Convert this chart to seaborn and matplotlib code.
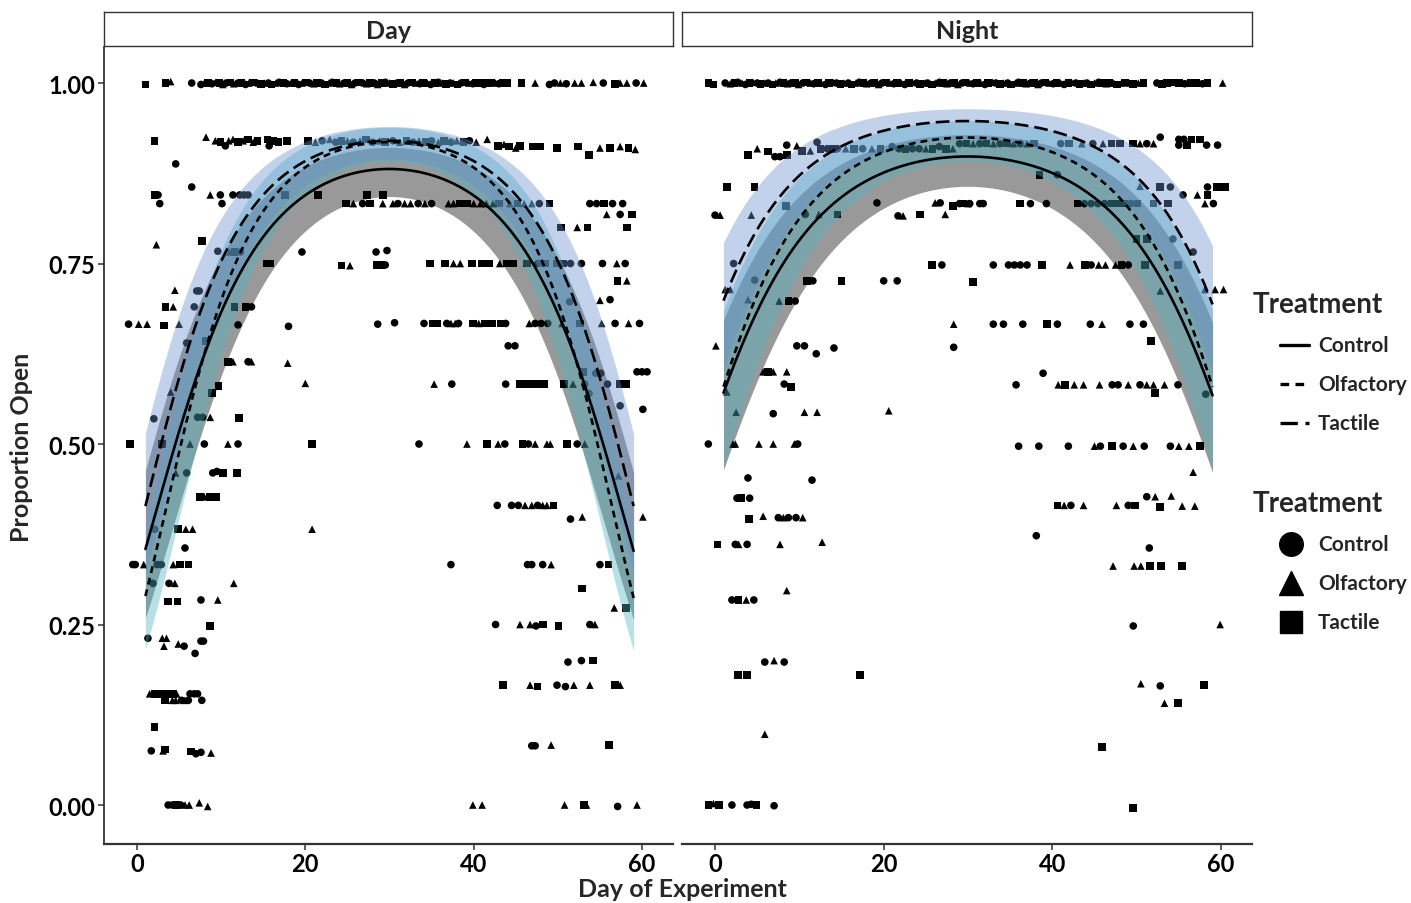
import numpy as np
import pandas as pd
import matplotlib
matplotlib.use("Agg")
import matplotlib.pyplot as plt
from matplotlib.lines import Line2D
import seaborn as sns

# ---------------- data ----------------
treat_names = {"C": "Control", "O": "Olfactory", "T": "Tactile"}
treat_order = ["Control", "Olfactory", "Tactile"]

# Day panel observations: (day, proportion open, treatment)
day_top = [
    (1.0, 0.998, 'T'), (3.4, 1.0, 'T'), (4.0, 1.002, 'O'), (6.5, 1.0, 'C'),
    (7.6, 0.998, 'C'), (8.0, 1.0, 'O'), (8.4, 1.0, 'T'), (8.9, 0.999, 'C'), (9.3, 1.001, 'O'), (9.8, 1.0, 'T'),
    (10.2, 0.998, 'O'), (10.6, 1.0, 'C'), (11.1, 1.001, 'T'), (11.5, 0.999, 'O'), (12.0, 1.0, 'C'), (12.4, 1.0, 'T'),
    (12.9, 0.998, 'C'), (13.3, 1.0, 'O'), (13.8, 1.001, 'T'), (14.2, 1.0, 'C'), (14.7, 0.999, 'T'), (15.1, 1.0, 'O'),
    (15.6, 1.0, 'C'), (16.0, 0.998, 'T'), (16.5, 1.0, 'O'), (16.9, 1.001, 'C'), (17.4, 1.0, 'T'), (17.8, 0.999, 'C'),
    (18.3, 1.0, 'O'), (18.7, 1.0, 'T'), (19.2, 0.998, 'C'), (19.6, 1.0, 'O'), (20.1, 1.001, 'T'), (20.5, 1.0, 'C'),
    (21.0, 0.999, 'O'), (21.4, 1.0, 'T'), (21.9, 1.0, 'C'), (22.3, 0.998, 'T'), (22.8, 1.0, 'O'), (23.2, 1.001, 'C'),
    (23.7, 1.0, 'T'), (24.1, 0.999, 'O'), (24.6, 1.0, 'C'), (25.0, 1.0, 'T'), (25.5, 0.998, 'O'), (25.9, 1.0, 'C'),
    (26.4, 1.001, 'T'), (26.8, 1.0, 'C'), (27.3, 0.999, 'O'), (27.7, 1.0, 'T'), (28.2, 1.0, 'C'), (28.6, 0.998, 'O'),
    (29.1, 1.0, 'T'), (29.5, 1.001, 'C'), (30.0, 1.0, 'O'), (30.4, 0.999, 'T'), (30.9, 1.0, 'C'), (31.3, 1.0, 'T'),
    (31.8, 0.998, 'O'), (32.2, 1.0, 'C'), (32.7, 1.001, 'T'), (33.1, 1.0, 'O'), (33.6, 0.999, 'C'), (34.0, 1.0, 'T'),
    (34.5, 1.0, 'O'), (34.9, 0.998, 'C'), (35.4, 1.0, 'T'), (35.8, 1.001, 'C'), (36.3, 1.0, 'O'), (36.7, 0.999, 'T'),
    (37.2, 1.0, 'C'), (37.6, 1.0, 'O'), (38.1, 0.998, 'T'), (38.5, 1.0, 'C'), (39.0, 1.001, 'T'), (39.4, 1.0, 'O'),
    (39.9, 0.999, 'C'), (40.3, 1.0, 'T'), (40.8, 1.0, 'T'), (41.2, 0.998, 'C'), (41.7, 1.0, 'T'), (42.1, 1.001, 'T'),
    (42.6, 1.0, 'O'), (43.0, 0.999, 'C'), (43.5, 1.0, 'T'), (44.0, 1.0, 'T'),
    (45.7, 1.0, 'T'), (47.3, 1.0, 'O'), (49.0, 0.998, 'C'), (49.6, 1.0, 'C'), (50.3, 1.0, 'O'), (51.0, 0.999, 'C'),
    (52.0, 1.0, 'O'), (52.8, 1.0, 'O'), (54.2, 1.001, 'O'), (55.4, 1.0, 'C'), (56.8, 0.999, 'T'), (57.4, 1.0, 'O'),
    (58.2, 1.0, 'O'), (59.3, 1.0, 'C'), (60.2, 1.0, 'O'),
]
day_upper = [
    (2.1, 0.92, 'T'), (8.2, 0.925, 'O'), (9.3, 0.92, 'O'), (9.9, 0.918, 'T'), (10.5, 0.913, 'C'), (10.9, 0.92, 'O'),
    (11.4, 0.922, 'O'), (12.0, 0.918, 'T'), (12.6, 0.92, 'O'), (13.2, 0.922, 'T'), (13.8, 0.918, 'O'), (14.3, 0.92, 'T'),
    (15.5, 0.922, 'T'), (15.7, 0.913, 'C'), (16.2, 0.92, 'T'), (16.8, 0.918, 'T'), (17.8, 0.92, 'T'), (20.3, 0.92, 'T'),
    (21.2, 0.918, 'O'), (22.0, 0.92, 'C'), (22.9, 0.922, 'O'), (23.6, 0.918, 'C'), (24.3, 0.92, 'T'), (25.0, 0.92, 'O'),
    (25.7, 0.918, 'C'), (26.5, 0.92, 'O'), (27.2, 0.922, 'T'), (28.0, 0.918, 'C'), (28.8, 0.92, 'O'), (29.5, 0.918, 'T'),
    (30.4, 0.92, 'C'), (31.2, 0.918, 'O'), (32.0, 0.92, 'T'), (32.8, 0.918, 'C'), (33.5, 0.92, 'O'), (34.3, 0.918, 'T'),
    (35.0, 0.92, 'C'), (35.8, 0.918, 'O'), (36.5, 0.92, 'T'), (37.3, 0.918, 'C'), (38.0, 0.92, 'O'), (38.8, 0.918, 'T'),
    (39.5, 0.92, 'C'), (40.3, 0.918, 'O'), (41.6, 0.922, 'O'), (42.9, 0.913, 'T'), (43.6, 0.915, 'O'), (44.2, 0.912, 'T'),
    (45.0, 0.91, 'O'), (45.5, 0.913, 'T'), (47.0, 0.912, 'T'), (47.9, 0.912, 'T'), (49.9, 0.91, 'T'), (52.4, 0.912, 'T'),
    (53.7, 0.9, 'T'), (55.0, 0.91, 'O'), (56.2, 0.91, 'T'), (57.4, 0.912, 'O'), (58.4, 0.91, 'T'), (59.2, 0.908, 'O'),
    (4.6, 0.888, 'C'), (6.5, 0.856, 'C'),
    (2.1, 0.845, 'T'), (2.5, 0.845, 'C'), (2.7, 0.833, 'C'), (8.7, 0.845, 'O'), (9.9, 0.845, 'C'), (10.1, 0.833, 'C'),
    (11.4, 0.845, 'C'), (12.2, 0.845, 'C'), (12.7, 0.845, 'C'), (13.2, 0.845, 'C'), (17.6, 0.845, 'T'), (21.5, 0.845, 'T'),
    (24.8, 0.833, 'T'), (25.7, 0.833, 'O'), (26.8, 0.833, 'C'), (27.3, 0.845, 'T'), (27.7, 0.833, 'T'), (29.2, 0.845, 'T'),
    (29.2, 0.833, 'O'), (30.4, 0.833, 'O'), (31.0, 0.833, 'C'), (31.8, 0.833, 'O'), (32.5, 0.833, 'O'), (33.4, 0.833, 'C'),
    (34.2, 0.833, 'O'), (35.0, 0.833, 'C'), (37.0, 0.833, 'O'), (37.6, 0.833, 'O'), (38.4, 0.833, 'T'), (39.2, 0.833, 'T'),
    (40.0, 0.833, 'O'), (40.8, 0.833, 'O'), (41.5, 0.833, 'O'), (42.3, 0.833, 'O'), (43.0, 0.833, 'T'), (44.3, 0.833, 'O'),
    (45.2, 0.833, 'T'), (46.0, 0.833, 'O'), (46.9, 0.833, 'O'), (47.8, 0.833, 'C'), (49.0, 0.833, 'T'), (53.8, 0.833, 'C'),
    (54.6, 0.833, 'C'), (55.5, 0.833, 'T'), (56.5, 0.833, 'C'), (57.7, 0.833, 'C'), (55.8, 0.818, 'O'), (57.4, 0.818, 'C'),
    (58.8, 0.818, 'T'), (50.4, 0.8, 'T'), (52.3, 0.8, 'O'), (53.5, 0.8, 'T'), (58.2, 0.8, 'T'),
]
day_middle = [
    (2.3, 0.776, 'O'), (7.7, 0.781, 'T'), (9.6, 0.767, 'C'), (11.0, 0.766, 'O'), (11.6, 0.766, 'T'), (12.3, 0.766, 'C'),
    (19.6, 0.766, 'C'), (28.4, 0.766, 'C'), (29.7, 0.768, 'C'), (15.4, 0.75, 'T'), (15.8, 0.75, 'T'), (24.3, 0.747, 'T'),
    (25.3, 0.747, 'O'), (28.5, 0.748, 'T'), (29.0, 0.748, 'T'), (29.5, 0.748, 'C'), (34.8, 0.75, 'T'), (36.6, 0.75, 'T'),
    (37.6, 0.75, 'O'), (38.4, 0.75, 'O'), (39.8, 0.75, 'T'), (41.0, 0.75, 'T'), (41.8, 0.75, 'T'), (43.1, 0.75, 'O'),
    (43.9, 0.75, 'T'), (44.7, 0.75, 'T'), (46.3, 0.75, 'T'), (47.6, 0.75, 'C'), (48.5, 0.75, 'T'), (49.9, 0.75, 'T'),
    (50.6, 0.75, 'T'), (51.5, 0.75, 'C'), (52.8, 0.75, 'C'), (55.3, 0.75, 'C'), (57.0, 0.75, 'O'), (58.0, 0.75, 'C'),
    (57.1, 0.726, 'T'), (58.2, 0.726, 'O'),
    (4.5, 0.713, 'O'), (7.1, 0.712, 'C'), (7.4, 0.712, 'C'), (3.4, 0.69, 'T'), (4.3, 0.69, 'O'), (6.8, 0.69, 'C'),
    (11.6, 0.69, 'T'), (12.9, 0.69, 'T'), (13.6, 0.69, 'C'), (51.4, 0.697, 'C'), (55.0, 0.699, 'O'), (56.2, 0.7, 'C'),
    (-1.0, 0.666, 'C'), (0.2, 0.666, 'O'), (1.2, 0.666, 'O'), (3.2, 0.664, 'T'), (5.0, 0.666, 'O'), (12.0, 0.665, 'C'),
    (18.0, 0.663, 'C'), (28.6, 0.666, 'C'), (30.6, 0.668, 'C'), (34.1, 0.667, 'C'), (35.1, 0.667, 'T'), (35.7, 0.667, 'T'),
    (36.8, 0.667, 'C'), (37.3, 0.667, 'O'), (37.8, 0.667, 'O'), (38.2, 0.667, 'C'), (39.9, 0.667, 'T'), (40.6, 0.667, 'O'),
    (41.3, 0.667, 'T'), (42.2, 0.667, 'T'), (43.2, 0.667, 'T'), (43.8, 0.667, 'C'), (46.6, 0.667, 'O'), (47.3, 0.667, 'C'),
    (48.0, 0.667, 'C'), (48.8, 0.667, 'C'), (50.5, 0.667, 'O'), (52.6, 0.667, 'T'), (55.2, 0.667, 'O'), (56.8, 0.667, 'C'),
    (58.4, 0.667, 'O'), (59.7, 0.667, 'C'), (44.1, 0.636, 'C'), (44.9, 0.636, 'C'), (5.9, 0.64, 'C'), (8.2, 0.643, 'T'),
    (53.0, 0.6, 'T'), (54.5, 0.598, 'C'), (55.1, 0.598, 'C'), (59.4, 0.6, 'C'), (60.0, 0.6, 'C'), (60.6, 0.6, 'C'),
    (10.8, 0.614, 'T'), (11.4, 0.614, 'O'), (13.2, 0.614, 'C'), (13.6, 0.614, 'O'), (17.9, 0.612, 'O'), (20.0, 0.584, 'O'),
    (9.7, 0.58, 'T'), (4.0, 0.572, 'O'), (8.9, 0.571, 'T'),
    (35.3, 0.583, 'O'), (37.4, 0.583, 'C'), (43.8, 0.583, 'C'), (45.5, 0.583, 'T'), (46.3, 0.583, 'T'), (47.0, 0.583, 'T'),
    (47.6, 0.583, 'T'), (48.4, 0.583, 'T'), (50.7, 0.583, 'T'), (51.8, 0.583, 'O'), (53.2, 0.583, 'C'), (55.9, 0.583, 'C'),
    (57.4, 0.583, 'T'), (58.1, 0.583, 'T'), (57.4, 0.553, 'C'), (60.1, 0.548, 'C'), (53.7, 0.57, 'C'),
    (2.0, 0.535, 'C'), (7.2, 0.537, 'C'), (7.8, 0.537, 'C'), (8.7, 0.537, 'O'), (12.1, 0.536, 'T'),
    (-0.8, 0.5, 'T'), (3.0, 0.5, 'T'), (6.3, 0.5, 'O'), (8.0, 0.5, 'C'), (10.8, 0.5, 'O'), (12.0, 0.5, 'C'), (20.8, 0.5, 'T'),
    (33.5, 0.5, 'C'), (39.2, 0.5, 'O'), (41.6, 0.5, 'T'), (42.9, 0.5, 'O'), (43.7, 0.5, 'C'), (45.8, 0.5, 'T'),
    (46.5, 0.5, 'C'), (47.3, 0.5, 'O'), (48.7, 0.5, 'O'), (49.1, 0.5, 'O'), (51.1, 0.5, 'T'), (52.3, 0.5, 'C'),
    (53.2, 0.5, 'O'), (57.2, 0.456, 'O'),
]
day_lower = [
    (4.6, 0.46, 'O'), (5.9, 0.46, 'C'), (9.0, 0.46, 'C'), (9.5, 0.462, 'C'), (10.2, 0.46, 'T'), (11.9, 0.46, 'T'),
    (7.5, 0.427, 'T'), (8.0, 0.427, 'O'), (8.6, 0.427, 'T'), (9.4, 0.427, 'T'),
    (42.8, 0.415, 'C'), (44.5, 0.415, 'C'), (45.3, 0.415, 'C'), (46.1, 0.415, 'O'), (46.9, 0.415, 'O'), (47.6, 0.415, 'C'),
    (48.2, 0.415, 'O'), (48.7, 0.415, 'O'), (49.5, 0.415, 'T'), (51.5, 0.396, 'C'), (52.9, 0.399, 'O'), (60.1, 0.399, 'O'),
    (2.1, 0.382, 'C'), (4.9, 0.382, 'T'), (5.8, 0.382, 'O'), (6.6, 0.382, 'O'), (20.8, 0.382, 'O'), (5.7, 0.356, 'C'),
    (-0.5, 0.333, 'C'), (-0.2, 0.333, 'C'), (0.8, 0.333, 'O'), (2.4, 0.333, 'C'), (2.9, 0.333, 'C'), (4.3, 0.333, 'O'),
    (5.1, 0.333, 'T'), (6.1, 0.333, 'T'), (37.3, 0.333, 'C'), (46.4, 0.333, 'C'), (46.9, 0.333, 'C'), (48.2, 0.333, 'C'),
    (49.2, 0.333, 'O'), (55.0, 0.333, 'C'), (56.0, 0.333, 'T'),
    (1.9, 0.307, 'C'), (3.8, 0.307, 'C'), (4.5, 0.307, 'O'), (11.5, 0.307, 'O'), (52.9, 0.3, 'T'),
    (3.7, 0.282, 'T'), (4.8, 0.282, 'T'), (7.6, 0.284, 'C'), (9.6, 0.284, 'O'), (56.7, 0.273, 'O'), (58.1, 0.273, 'T'),
    (8.7, 0.248, 'T'), (42.6, 0.25, 'C'), (45.5, 0.25, 'O'), (46.7, 0.25, 'O'), (47.4, 0.248, 'C'), (48.2, 0.25, 'T'),
    (50.1, 0.248, 'T'), (53.8, 0.25, 'C'), (54.4, 0.25, 'O'),
    (1.3, 0.231, 'C'), (3.0, 0.231, 'O'), (3.5, 0.231, 'O'), (4.9, 0.223, 'O'), (5.6, 0.22, 'C'), (6.9, 0.21, 'C'),
    (7.6, 0.227, 'C'), (7.9, 0.227, 'C'), (3.2, 0.22, 'O'),
    (51.2, 0.198, 'C'), (52.8, 0.2, 'C'), (54.2, 0.2, 'T'),
    (43.5, 0.166, 'T'), (46.7, 0.166, 'O'), (47.6, 0.164, 'T'), (49.9, 0.166, 'C'), (50.9, 0.164, 'C'), (51.9, 0.166, 'O'),
    (53.8, 0.166, 'O'), (56.8, 0.166, 'T'), (57.4, 0.166, 'O'),
    (1.5, 0.154, 'O'), (2.1, 0.154, 'T'), (2.6, 0.154, 'T'), (3.1, 0.154, 'O'), (3.6, 0.154, 'T'), (4.3, 0.154, 'T'),
    (4.7, 0.154, 'O'), (6.3, 0.154, 'C'), (6.8, 0.154, 'C'), (7.2, 0.154, 'C'),
    (3.3, 0.145, 'T'), (4.2, 0.145, 'O'), (4.6, 0.145, 'O'), (5.3, 0.145, 'C'), (5.7, 0.145, 'O'), (6.1, 0.145, 'C'),
    (7.7, 0.145, 'C'), (2.1, 0.108, 'T'),
    (1.7, 0.075, 'C'), (3.1, 0.075, 'O'), (3.3, 0.077, 'T'), (6.4, 0.074, 'T'), (7.0, 0.071, 'C'), (7.6, 0.073, 'C'),
    (8.8, 0.072, 'O'), (46.9, 0.082, 'C'), (47.3, 0.082, 'C'), (49.2, 0.083, 'O'), (56.1, 0.083, 'T'),
    (3.7, 0.0, 'C'), (4.2, 0.0, 'C'), (4.7, 0.0, 'T'), (5.2, 0.0, 'C'), (5.7, 0.0, 'O'), (6.2, 0.0, 'O'), (7.4, 0.003, 'O'),
    (8.4, -0.002, 'O'), (39.9, 0.0, 'O'), (41.0, 0.0, 'O'), (50.8, 0.0, 'O'), (53.1, 0.0, 'T'), (53.4, 0.0, 'O'),
    (57.1, -0.002, 'C'), (59.4, 0.0, 'O'),
]

# Night panel observations
night_top = [
    (-0.8, 1.0, 'T'), (-0.2, 0.998, 'T'), (1.2, 1.0, 'C'), (1.8, 0.999, 'O'), (2.3, 1.0, 'T'), (2.7, 1.001, 'C'),
    (3.2, 1.0, 'O'), (3.6, 0.998, 'C'), (4.1, 1.0, 'T'), (4.5, 1.001, 'O'), (5.0, 1.0, 'C'), (5.4, 0.999, 'T'),
    (5.9, 1.0, 'O'), (6.3, 1.0, 'C'), (6.8, 0.998, 'T'), (7.2, 1.0, 'O'), (7.7, 1.001, 'C'), (8.1, 1.0, 'T'),
    (8.6, 0.999, 'O'), (9.0, 1.0, 'C'), (9.5, 1.0, 'T'), (9.9, 0.998, 'O'), (10.4, 1.0, 'C'), (10.8, 1.001, 'T'),
    (11.3, 1.0, 'O'), (11.7, 0.999, 'C'), (12.2, 1.0, 'T'), (12.6, 1.0, 'O'), (13.1, 0.998, 'C'), (13.5, 1.0, 'T'),
    (14.0, 1.001, 'O'), (14.4, 1.0, 'C'), (14.9, 0.999, 'T'), (15.3, 1.0, 'O'), (15.8, 1.0, 'C'), (16.2, 0.998, 'T'),
    (16.7, 1.0, 'O'), (17.1, 1.001, 'C'), (17.6, 1.0, 'T'), (18.0, 0.999, 'O'), (18.5, 1.0, 'C'), (18.9, 1.0, 'T'),
    (19.4, 0.998, 'O'), (19.8, 1.0, 'C'), (20.3, 1.001, 'T'), (20.7, 1.0, 'O'), (21.2, 0.999, 'C'), (21.6, 1.0, 'T'),
    (22.1, 1.0, 'O'), (22.5, 0.998, 'C'), (23.0, 1.0, 'T'), (23.4, 1.001, 'O'), (23.9, 1.0, 'C'), (24.3, 0.999, 'T'),
    (24.8, 1.0, 'O'), (25.2, 1.0, 'C'), (25.7, 0.998, 'T'), (26.1, 1.0, 'O'), (26.6, 1.001, 'C'), (27.0, 1.0, 'T'),
    (27.5, 0.999, 'O'), (27.9, 1.0, 'C'), (28.4, 1.0, 'T'), (28.8, 0.998, 'O'), (29.3, 1.0, 'C'), (29.7, 1.001, 'T'),
    (30.2, 1.0, 'O'), (30.6, 0.999, 'C'), (31.1, 1.0, 'T'), (31.5, 1.0, 'O'), (32.0, 0.998, 'C'), (32.4, 1.0, 'T'),
    (32.9, 1.001, 'O'), (33.3, 1.0, 'C'), (33.8, 0.999, 'T'), (34.2, 1.0, 'O'), (34.7, 1.0, 'C'), (35.1, 0.998, 'T'),
    (35.6, 1.0, 'O'), (36.0, 1.001, 'C'), (36.5, 1.0, 'T'), (36.9, 0.999, 'O'), (37.4, 1.0, 'C'), (37.8, 1.0, 'T'),
    (38.3, 0.998, 'O'), (38.7, 1.0, 'C'), (39.2, 1.001, 'T'), (39.6, 1.0, 'O'), (40.1, 0.999, 'C'), (40.5, 1.0, 'T'),
    (41.0, 1.0, 'O'), (41.4, 0.998, 'C'), (41.9, 1.0, 'T'), (42.3, 1.001, 'O'), (42.8, 1.0, 'C'), (43.2, 0.999, 'T'),
    (43.7, 1.0, 'O'), (44.1, 1.0, 'C'), (44.6, 0.998, 'T'), (45.0, 1.0, 'O'), (45.5, 1.001, 'C'), (45.9, 1.0, 'T'),
    (46.4, 0.999, 'O'), (46.8, 1.0, 'T'), (47.3, 1.0, 'O'), (47.7, 0.998, 'T'), (48.2, 1.0, 'O'), (48.6, 1.001, 'T'),
    (49.1, 1.0, 'O'), (49.6, 0.999, 'T'), (50.2, 1.0, 'O'), (50.8, 1.0, 'T'),
    (52.4, 1.0, 'C'), (53.0, 0.999, 'T'), (53.6, 1.0, 'T'), (54.3, 1.001, 'T'), (55.0, 1.0, 'T'), (55.7, 0.999, 'C'),
    (56.4, 1.0, 'T'), (57.1, 1.0, 'T'), (57.8, 0.999, 'C'), (58.4, 1.0, 'T'), (60.2, 1.0, 'O'),
]
night_upper = [
    (3.9, 0.9, 'T'), (5.0, 0.909, 'O'), (6.3, 0.905, 'T'), (7.1, 0.898, 'C'), (7.7, 0.898, 'C'), (8.5, 0.9, 'T'),
    (8.5, 0.914, 'C'), (9.7, 0.913, 'O'), (10.3, 0.906, 'T'), (11.3, 0.906, 'O'), (12.1, 0.918, 'C'), (12.5, 0.909, 'T'),
    (13.3, 0.909, 'C'), (14.0, 0.909, 'T'), (14.5, 0.909, 'C'), (15.5, 0.909, 'O'), (16.5, 0.909, 'T'), (17.5, 0.909, 'C'),
    (18.6, 0.909, 'O'), (19.6, 0.909, 'T'), (21.0, 0.912, 'C'), (21.8, 0.909, 'C'), (22.6, 0.909, 'T'), (23.4, 0.909, 'C'),
    (24.2, 0.909, 'C'), (25.0, 0.909, 'O'), (25.8, 0.909, 'T'), (26.6, 0.912, 'C'), (27.4, 0.909, 'T'), (28.2, 0.909, 'O'),
    (29.0, 0.916, 'C'), (29.8, 0.916, 'T'), (30.6, 0.916, 'O'), (31.4, 0.916, 'C'), (32.2, 0.916, 'T'), (33.0, 0.916, 'O'),
    (33.8, 0.916, 'C'), (34.6, 0.916, 'T'), (35.4, 0.916, 'O'), (36.2, 0.916, 'C'), (37.0, 0.916, 'O'), (37.8, 0.916, 'T'),
    (41.0, 0.916, 'C'), (42.0, 0.916, 'T'), (43.5, 0.916, 'O'), (44.8, 0.916, 'C'), (46.0, 0.916, 'O'), (47.0, 0.916, 'T'),
    (48.0, 0.916, 'T'), (49.6, 0.916, 'T'), (50.4, 0.916, 'O'), (51.2, 0.916, 'C'), (52.0, 0.916, 'O'), (52.8, 0.925, 'C'),
    (55.0, 0.922, 'C'), (55.6, 0.922, 'C'), (56.5, 0.922, 'T'), (57.5, 0.922, 'T'), (55.0, 0.914, 'C'), (56.0, 0.914, 'T'),
    (58.3, 0.914, 'C'), (59.6, 0.914, 'C'),
    (1.4, 0.856, 'T'), (4.7, 0.856, 'T'),
    (0.0, 0.817, 'C'), (0.6, 0.817, 'O'), (4.3, 0.817, 'O'), (8.4, 0.83, 'T'), (10.7, 0.818, 'C'), (12.3, 0.818, 'O'),
    (14.5, 0.818, 'T'), (19.2, 0.834, 'C'), (21.7, 0.816, 'C'), (22.3, 0.816, 'O'), (24.3, 0.818, 'T'), (26.1, 0.834, 'O'),
    (26.7, 0.834, 'C'), (27.3, 0.818, 'O'), (28.2, 0.83, 'T'), (29.4, 0.833, 'T'), (30.2, 0.833, 'C'), (31.4, 0.833, 'C'),
    (29.0, 0.833, 'C'), (30.0, 0.833, 'O'), (31.8, 0.833, 'C'), (36.2, 0.833, 'T'), (37.4, 0.833, 'C'), (39.3, 0.833, 'C'),
    (43.0, 0.833, 'T'), (43.8, 0.833, 'C'), (44.6, 0.833, 'C'), (45.4, 0.833, 'C'), (46.2, 0.833, 'C'), (47.0, 0.833, 'T'),
    (47.7, 0.833, 'T'), (48.5, 0.833, 'T'), (49.3, 0.833, 'C'), (50.1, 0.833, 'T'), (52.0, 0.833, 'T'), (53.7, 0.833, 'T'),
    (38.5, 0.873, 'T'), (40.6, 0.873, 'C'), (50.4, 0.857, 'O'), (52.8, 0.856, 'T'), (54.0, 0.856, 'C'), (55.5, 0.845, 'C'),
    (57.2, 0.845, 'O'), (58.4, 0.845, 'T'), (58.4, 0.856, 'C'), (59.5, 0.856, 'T'), (60.5, 0.856, 'T'), (58.1, 0.833, 'O'),
    (59.1, 0.833, 'C'),
]
night_middle = [
    (50.0, 0.784, 'T'), (51.2, 0.784, 'T'), (54.3, 0.784, 'C'), (56.7, 0.766, 'C'),
    (2.2, 0.75, 'C'), (25.7, 0.748, 'T'), (26.9, 0.748, 'C'), (33.0, 0.748, 'C'), (34.8, 0.748, 'C'), (35.5, 0.748, 'C'),
    (36.2, 0.748, 'C'), (37.0, 0.748, 'C'), (38.8, 0.748, 'T'), (42.1, 0.748, 'O'), (43.9, 0.748, 'T'), (44.6, 0.748, 'C'),
    (45.5, 0.748, 'O'), (46.3, 0.748, 'O'), (47.5, 0.748, 'O'), (48.2, 0.748, 'T'), (49.0, 0.748, 'C'), (51.0, 0.748, 'T'),
    (54.9, 0.748, 'T'),
    (1.2, 0.714, 'O'), (1.8, 0.714, 'O'), (4.7, 0.727, 'C'), (10.9, 0.726, 'T'), (11.6, 0.726, 'C'), (15.0, 0.726, 'T'),
    (20.0, 0.726, 'C'), (21.6, 0.726, 'C'), (30.6, 0.724, 'T'), (3.9, 0.7, 'O'), (7.6, 0.698, 'O'), (8.7, 0.698, 'T'),
    (9.5, 0.698, 'C'), (52.8, 0.712, 'O'), (58.1, 0.714, 'O'), (59.3, 0.714, 'O'), (60.3, 0.714, 'O'),
    (28.3, 0.666, 'O'), (33.0, 0.666, 'C'), (34.2, 0.666, 'C'), (36.5, 0.666, 'C'), (39.4, 0.666, 'T'), (40.6, 0.666, 'C'),
    (44.5, 0.666, 'C'), (45.9, 0.666, 'O'), (49.2, 0.666, 'C'), (50.8, 0.666, 'C'), (51.7, 0.643, 'T'),
    (0.1, 0.636, 'O'), (9.7, 0.636, 'C'), (10.6, 0.636, 'C'), (12.0, 0.625, 'C'), (14.1, 0.633, 'C'), (28.3, 0.634, 'C'),
    (5.7, 0.6, 'O'), (6.3, 0.6, 'T'), (6.9, 0.6, 'O'), (8.5, 0.6, 'O'), (38.9, 0.598, 'C'), (8.2, 0.583, 'C'),
    (9.0, 0.579, 'T'),
    (35.7, 0.582, 'C'), (40.7, 0.582, 'O'), (41.5, 0.582, 'T'), (42.6, 0.582, 'O'), (43.7, 0.582, 'O'), (45.6, 0.582, 'O'),
    (47.1, 0.582, 'C'), (47.8, 0.582, 'C'), (49.0, 0.582, 'O'), (50.4, 0.582, 'C'), (51.2, 0.582, 'O'), (52.0, 0.582, 'O'),
    (53.3, 0.582, 'O'), (54.9, 0.582, 'C'), (52.2, 0.571, 'T'), (58.2, 0.569, 'C'), (1.4, 0.572, 'O'),
    (2.5, 0.544, 'O'), (6.9, 0.542, 'C'), (10.6, 0.544, 'O'), (12.1, 0.544, 'O'), (20.6, 0.546, 'O'),
    (-0.8, 0.5, 'C'), (2.1, 0.5, 'O'), (2.4, 0.5, 'O'), (5.2, 0.5, 'O'), (6.9, 0.5, 'O'), (9.4, 0.5, 'O'), (9.8, 0.5, 'C'),
    (36.0, 0.497, 'C'), (38.4, 0.497, 'C'), (41.9, 0.497, 'C'), (45.0, 0.497, 'O'), (45.7, 0.497, 'C'), (47.1, 0.497, 'T'),
    (48.4, 0.497, 'C'), (49.6, 0.497, 'O'), (50.9, 0.497, 'C'), (54.0, 0.497, 'C'), (55.0, 0.497, 'O'), (56.2, 0.497, 'O'),
    (57.5, 0.497, 'T'),
]
night_lower = [
    (3.9, 0.453, 'C'), (11.5, 0.45, 'C'), (56.7, 0.461, 'O'),
    (2.6, 0.425, 'C'), (3.1, 0.425, 'T'), (4.1, 0.425, 'C'),
    (4.0, 0.396, 'T'), (5.7, 0.4, 'O'), (7.5, 0.398, 'C'), (8.1, 0.398, 'O'), (8.7, 0.398, 'C'), (9.6, 0.398, 'C'),
    (10.4, 0.398, 'O'),
    (40.6, 0.415, 'T'), (41.4, 0.415, 'O'), (42.2, 0.415, 'C'), (43.7, 0.415, 'O'), (47.6, 0.415, 'O'), (49.0, 0.415, 'C'),
    (49.8, 0.415, 'T'), (51.2, 0.427, 'C'), (52.2, 0.427, 'O'), (52.8, 0.413, 'T'), (54.1, 0.428, 'O'), (55.4, 0.414, 'O'),
    (56.9, 0.414, 'O'),
    (0.3, 0.361, 'T'), (2.4, 0.361, 'C'), (2.8, 0.361, 'O'), (3.8, 0.361, 'C'), (7.7, 0.361, 'O'), (12.7, 0.364, 'O'),
    (38.1, 0.373, 'C'), (51.5, 0.356, 'C'),
    (47.2, 0.331, 'O'), (49.7, 0.331, 'O'), (50.5, 0.331, 'O'), (51.6, 0.331, 'T'), (52.9, 0.331, 'T'), (55.4, 0.331, 'T'),
    (8.5, 0.297, 'O'), (2.0, 0.284, 'C'), (2.8, 0.284, 'T'), (3.7, 0.284, 'O'), (4.6, 0.284, 'C'),
    (49.6, 0.248, 'C'), (59.9, 0.25, 'O'),
    (5.9, 0.198, 'C'), (7.0, 0.2, 'O'), (8.2, 0.198, 'C'),
    (2.7, 0.18, 'T'), (3.8, 0.18, 'T'), (17.2, 0.18, 'T'),
    (50.5, 0.168, 'O'), (52.8, 0.165, 'C'), (58.0, 0.166, 'T'), (53.3, 0.141, 'O'), (54.9, 0.141, 'T'),
    (5.9, 0.098, 'O'), (45.9, 0.08, 'T'),
    (-0.8, 0.0, 'T'), (-0.2, 0.002, 'O'), (0.5, 0.0, 'T'), (2.0, 0.0, 'C'), (3.8, 0.0, 'C'), (4.3, 0.001, 'C'),
    (4.9, 0.0, 'T'), (7.0, -0.001, 'C'), (49.6, -0.004, 'T'),
]

# fitted curves (quadratic binomial GLM) at these days
fit_days = [1, 8, 15, 22, 30, 38, 45, 52, 59]
day_fit_control = [0.355, 0.624, 0.787, 0.858, 0.881, 0.858, 0.787, 0.624, 0.350]
day_fit_olfactory = [0.290, 0.625, 0.822, 0.897, 0.918, 0.897, 0.822, 0.625, 0.285]
day_fit_tactile = [0.414, 0.698, 0.845, 0.903, 0.920, 0.903, 0.845, 0.698, 0.414]
night_fit_control = [0.572, 0.748, 0.842, 0.884, 0.898, 0.884, 0.842, 0.748, 0.565]
night_fit_olfactory = [0.580, 0.776, 0.872, 0.912, 0.925, 0.912, 0.872, 0.776, 0.580]
night_fit_tactile = [0.700, 0.847, 0.912, 0.939, 0.947, 0.939, 0.912, 0.847, 0.690]
# confidence half-widths on the logit scale at the same days
day_ci_control = [0.45, 0.40, 0.36, 0.33, 0.32, 0.33, 0.36, 0.40, 0.45]
day_ci_olfactory = [0.40, 0.35, 0.33, 0.32, 0.32, 0.32, 0.33, 0.35, 0.40]
day_ci_tactile = [0.41, 0.36, 0.33, 0.31, 0.31, 0.31, 0.33, 0.36, 0.40]
night_ci_control = [0.43, 0.41, 0.40, 0.39, 0.39, 0.39, 0.40, 0.41, 0.43]
night_ci_olfactory = [0.46, 0.42, 0.41, 0.40, 0.40, 0.40, 0.41, 0.42, 0.46]
night_ci_tactile = [0.42, 0.41, 0.41, 0.41, 0.41, 0.41, 0.41, 0.41, 0.42]

x_ticks = [0, 20, 40, 60]
y_ticks = [0.0, 0.25, 0.5, 0.75, 1.0]
y_tick_labels = ["0.00", "0.25", "0.50", "0.75", "1.00"]

# ---------------- styling ----------------
sns.set_theme(style="white")
FONT = ["Lato", "DejaVu Sans"]
plt.rcParams["font.family"] = FONT
plt.rcParams["font.weight"] = "bold"

band_colors = {"Control": "#000000", "Olfactory": "#4db6c5", "Tactile": "#698fcd"}
band_alpha = 0.4
dash_map = {"Control": "", "Olfactory": (2.6, 1.9), "Tactile": (5.2, 2.3)}
marker_map = {"Control": "o", "Olfactory": "^", "Tactile": "s"}

W, H = 1411, 904
fig = plt.figure(figsize=(W / 100, H / 100), dpi=100)
fig.patch.set_facecolor("white")


def fx(px):
    return px / W


def fy(py):
    return 1 - py / H


def points_frame(*rows):
    recs = [r for row in rows for r in row]
    return pd.DataFrame({
        "day": [r[0] for r in recs],
        "prop": [r[1] for r in recs],
        "Treatment": [treat_names[r[2]] for r in recs],
    })


def logit(p):
    p = np.asarray(p, dtype=float)
    return np.log(p / (1 - p))


def expit(v):
    return 1 / (1 + np.exp(-v))


panels = [
    ("Day", 104, 673, points_frame(day_top, day_upper, day_middle, day_lower),
     {"Control": (day_fit_control, day_ci_control),
      "Olfactory": (day_fit_olfactory, day_ci_olfactory),
      "Tactile": (day_fit_tactile, day_ci_tactile)}),
    ("Night", 682, 1252, points_frame(night_top, night_upper, night_middle, night_lower),
     {"Control": (night_fit_control, night_ci_control),
      "Olfactory": (night_fit_olfactory, night_ci_olfactory),
      "Tactile": (night_fit_tactile, night_ci_tactile)}),
]

top_px, bot_px = 48, 845
xs = np.linspace(1, 59, 240)

for i, (name, x0, x1, pts, fits) in enumerate(panels):
    ax = fig.add_axes([fx(x0), fy(bot_px), fx(x1) - fx(x0), fy(top_px) - fy(bot_px)])
    ax.set_facecolor("white")
    sns.scatterplot(data=pts, x="day", y="prop", style="Treatment", style_order=treat_order,
                    markers=marker_map, color="black", s=30, linewidth=0, legend=False,
                    ax=ax, zorder=1)
    curve_rows = []
    for t in treat_order:
        fit_vals, ci_vals = fits[t]
        cf = np.polyfit(fit_days, logit(fit_vals), 2)
        ch = np.polyfit(fit_days, ci_vals, 2)
        lv = np.polyval(cf, xs)
        hv = np.polyval(ch, xs)
        ax.fill_between(xs, expit(lv - hv), expit(lv + hv), color=band_colors[t],
                        alpha=band_alpha, linewidth=0, zorder=2)
        curve_rows.append(pd.DataFrame({"day": xs, "prop": expit(lv), "Treatment": t}))
    curves = pd.concat(curve_rows, ignore_index=True)
    sns.lineplot(data=curves, x="day", y="prop", style="Treatment", style_order=treat_order,
                 dashes=dash_map, color="black", linewidth=1.9, estimator=None, sort=False,
                 legend=False, ax=ax, zorder=3)

    ax.set_xlim(-3.92, 63.68)
    ax.set_ylim(-0.054, 1.0499)
    ax.set_xlabel("")
    ax.set_ylabel("")
    ax.set_xticks(x_ticks)
    ax.set_xticklabels([str(v) for v in x_ticks])
    ax.tick_params(axis="x", bottom=True, length=4, width=1.1, color="#333333", pad=2,
                   labelsize=17, labelcolor="black")
    for s in ["top", "right"]:
        ax.spines[s].set_visible(False)
    ax.spines["bottom"].set_color("#333333")
    ax.spines["bottom"].set_linewidth(1.6)
    if i == 0:
        ax.set_yticks(y_ticks)
        ax.set_yticklabels(y_tick_labels)
        ax.tick_params(axis="y", left=True, length=4, width=1.1, color="#333333", pad=2,
                       labelsize=17, labelcolor="black")
        ax.spines["left"].set_color("#222222")
        ax.spines["left"].set_linewidth(1.2)
    else:
        ax.set_yticks([])
        ax.spines["left"].set_visible(False)
    for lab in ax.get_xticklabels() + ax.get_yticklabels():
        lab.set_fontweight("bold")

    # facet strip
    sax = fig.add_axes([fx(x0), fy(47), fx(x1) - fx(x0), fy(13) - fy(47)])
    sax.set_xticks([])
    sax.set_yticks([])
    sax.set_facecolor("white")
    for s in sax.spines.values():
        s.set_color("#333333")
        s.set_linewidth(1.0)
    sax.text(0.5, 0.45, name, ha="center", va="center", fontsize=18, fontweight="bold",
             transform=sax.transAxes)

fig.text(fx(22), fy(447), "Proportion Open", rotation=90, ha="center", va="center",
         fontsize=18, fontweight="bold")
fig.text(fx(682), fy(890), "Day of Experiment", ha="center", va="center",
         fontsize=18, fontweight="bold")

# legends
fig.text(fx(1253), fy(305), "Treatment", ha="left", va="center", fontsize=20, fontweight="bold")
for k, t in enumerate(treat_order):
    yy = fy(346 + 39 * k)
    ln = Line2D([fx(1280), fx(1309)], [yy, yy], transform=fig.transFigure, color="black",
                linewidth=2.4)
    if dash_map[t]:
        ln.set_dashes(dash_map[t])
    fig.add_artist(ln)
    fig.text(fx(1318), yy, t, ha="left", va="center", fontsize=15, fontweight="bold")

fig.text(fx(1253), fy(504), "Treatment", ha="left", va="center", fontsize=20, fontweight="bold")
for k, t in enumerate(treat_order):
    yy = fy(545 + 39 * k)
    fig.add_artist(Line2D([fx(1291)], [yy], transform=fig.transFigure, marker=marker_map[t],
                          markersize=17 if t != "Tactile" else 16, color="black", linestyle="none"))
    fig.text(fx(1318), yy, t, ha="left", va="center", fontsize=15, fontweight="bold")

fig.savefig("out.png", dpi=100, facecolor="white")
